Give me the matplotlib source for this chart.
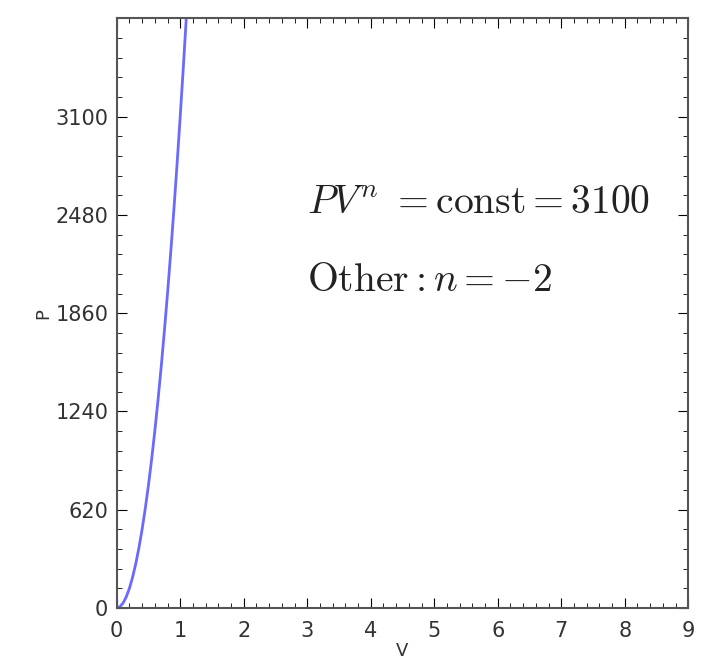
import matplotlib
matplotlib.use('Agg')
import matplotlib.pyplot as plt
from matplotlib.ticker import MultipleLocator, AutoMinorLocator

plt.rcParams['mathtext.fontset'] = 'cm'

# P against V (n = -2, const = 3100)
V = [0.0, 0.05, 0.1, 0.15, 0.2, 0.25, 0.3, 0.35, 0.4, 0.45, 0.5, 0.55, 0.6,
     0.65, 0.7, 0.75, 0.8, 0.85, 0.9, 0.95, 1.0, 1.05, 1.1, 1.15]
P = [0, 8, 31, 70, 124, 194, 279, 380, 496, 628, 775, 938, 1116,
     1310, 1519, 1744, 1984, 2240, 2511, 2798, 3100, 3418, 3751, 4100]
yticks = [0, 620, 1240, 1860, 2480, 3100]

fig = plt.figure(figsize=(7.03, 6.7), dpi=100)
ax = fig.add_axes([0.166, 0.0925, 0.813, 0.88])
ax.plot(V, P, color='#6a6aff', linewidth=2)
ax.set_xlim(0, 9)
ax.set_ylim(0, 3720)
ax.xaxis.set_major_locator(MultipleLocator(1))
ax.xaxis.set_minor_locator(AutoMinorLocator(5))
ax.set_yticks(yticks)
ax.yaxis.set_minor_locator(AutoMinorLocator(5))
ax.tick_params(which='both', direction='in', top=True, right=True,
               labelsize=15, labelcolor='#333333', pad=6)
ax.tick_params(axis='x', pad=9)
ax.tick_params(which='major', length=7)
ax.tick_params(which='minor', length=3.5)
for s in ax.spines.values():
    s.set_linewidth(1.5)
    s.set_color('#555555')
ax.set_xlabel('V', fontsize=13, labelpad=1, color='#333333')
ax.set_ylabel('P', fontsize=13, labelpad=2, color='#333333')

ax.text(3.0, 2560, r'$PV^n\ =\mathrm{const}=3100$', fontsize=28.5, va='center', color='#222222')
ax.text(3.0, 2070, r'$\mathrm{Other}:n=-2$', fontsize=28.5, va='center', color='#222222')

fig.savefig('out.png')
